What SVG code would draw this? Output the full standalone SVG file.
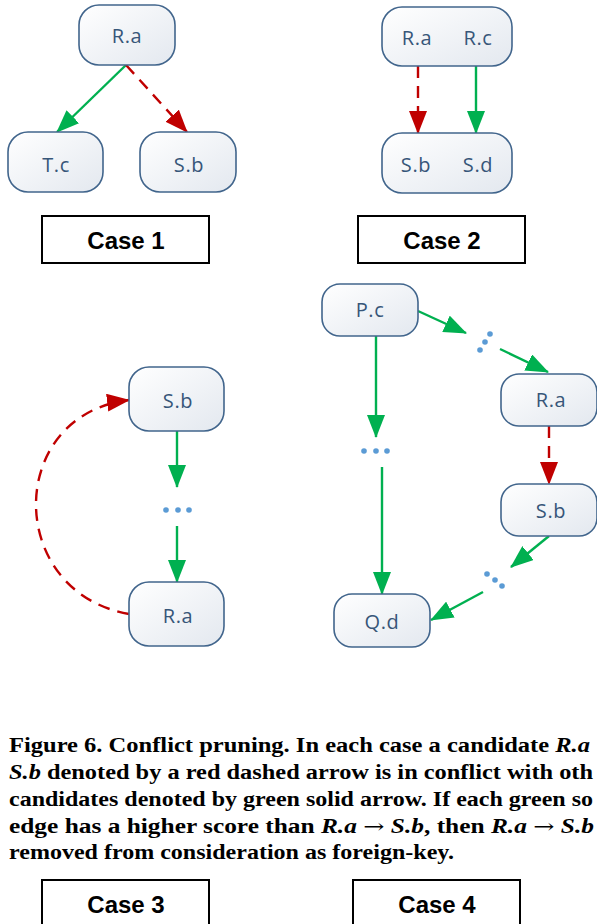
<svg xmlns="http://www.w3.org/2000/svg" width="597" height="924" viewBox="0 0 597 924">
<defs>
<linearGradient id="nf" x1="0" y1="0" x2="1" y2="1">
<stop offset="0" stop-color="#ffffff"/>
<stop offset="1" stop-color="#e3e8ef"/>
</linearGradient>
<marker id="ag" markerUnits="userSpaceOnUse" markerWidth="23" markerHeight="18" refX="22" refY="9" orient="auto">
<path d="M0,0 L23,9 L0,18 z" fill="#00b050"/>
</marker>
<marker id="ar" markerUnits="userSpaceOnUse" markerWidth="23" markerHeight="18" refX="22" refY="9" orient="auto">
<path d="M0,0 L23,9 L0,18 z" fill="#c00000"/>
</marker>
<style>
.n{fill:url(#nf);stroke:#41658c;stroke-width:1.6}
.t{font-family:"Open Sans","DejaVu Sans",sans-serif;font-size:20px;fill:#375679;text-anchor:middle;letter-spacing:0.6px}
.g{fill:none;stroke:#00b050;stroke-width:2.4;marker-end:url(#ag)}
.r{fill:none;stroke:#c00000;stroke-width:2.4;stroke-dasharray:12,8;marker-end:url(#ar)}
.d{fill:#5b9bd5}
.cb{fill:#fff;stroke:#000;stroke-width:2}
.ct{font-family:"Liberation Sans",Arial,sans-serif;font-weight:bold;font-size:24px;fill:#000;text-anchor:middle}
.cap{font-family:"Liberation Serif","Times New Roman",serif;font-weight:bold;font-size:20px;fill:#000}
.i{font-style:italic}
.ar{font-family:"DejaVu Serif",serif;font-weight:normal;font-style:normal}
</style>
</defs>
<rect width="597" height="924" fill="#fff"/>

<g id="connectors">
<line class="g" x1="126" y1="65" x2="57" y2="132"/>
<line class="r" x1="126" y1="65" x2="187" y2="132"/>
<line class="r" x1="418" y1="66" x2="418" y2="133"/>
<line class="g" x1="476" y1="66" x2="476" y2="133"/>
<line class="g" x1="177" y1="431" x2="177" y2="487"/>
<line class="g" x1="177" y1="526" x2="177" y2="582"/>
<path class="r" d="M129,614 C5,592 5,415 129,400"/>
<line class="g" x1="418" y1="311" x2="466" y2="333"/>
<line class="g" x1="500" y1="349" x2="548" y2="372"/>
<line class="r" x1="549" y1="426" x2="549" y2="484"/>
<line class="g" x1="549" y1="536" x2="511" y2="567"/>
<line class="g" x1="483" y1="592" x2="431" y2="620"/>
<line class="g" x1="376" y1="336" x2="376" y2="437"/>
<line class="g" x1="382" y1="467" x2="382" y2="594"/>
</g>

<g id="case1-Ra"><rect class="n" x="79" y="5" width="96" height="60" rx="20"/><text class="t" x="127" y="43">R.a</text></g>
<g id="case1-Tc"><rect class="n" x="8" y="132" width="95" height="60" rx="20"/><text class="t" x="56" y="172">T.c</text></g>
<g id="case1-Sb"><rect class="n" x="140" y="132" width="96" height="60" rx="20"/><text class="t" x="189" y="172">S.b</text></g>
<g id="case1-label"><rect class="cb" x="42" y="216" width="167" height="47"/><text class="ct" x="126" y="249">Case 1</text></g>

<g id="case2-top"><rect class="n" x="382" y="7" width="130" height="59" rx="20"/><text class="t" x="417" y="45">R.a</text><text class="t" x="478" y="45">R.c</text></g>
<g id="case2-bottom"><rect class="n" x="382" y="133" width="130" height="60" rx="20"/><text class="t" x="416" y="172">S.b</text><text class="t" x="478" y="172">S.d</text></g>
<g id="case2-label"><rect class="cb" x="358" y="216" width="167" height="47"/><text class="ct" x="442" y="249">Case 2</text></g>

<g id="case3-Sb"><rect class="n" x="129" y="367" width="95" height="64" rx="20"/><text class="t" x="178" y="408">S.b</text></g>
<g id="case3-dots"><circle class="d" cx="166" cy="510" r="2.8"/><circle class="d" cx="178" cy="510" r="2.8"/><circle class="d" cx="189" cy="510" r="2.8"/></g>
<g id="case3-Ra"><rect class="n" x="129" y="582" width="95" height="64" rx="20"/><text class="t" x="178" y="623">R.a</text></g>

<g id="case4-Pc"><rect class="n" x="322" y="284" width="96" height="52" rx="18"/><text class="t" x="370" y="317">P.c</text></g>
<g id="case4-dots1"><circle class="d" cx="490" cy="334" r="2.8"/><circle class="d" cx="485" cy="342" r="2.8"/><circle class="d" cx="480" cy="350" r="2.8"/></g>
<g id="case4-Ra"><rect class="n" x="501" y="374" width="96" height="52" rx="18"/><text class="t" x="551" y="407">R.a</text></g>
<g id="case4-Sb"><rect class="n" x="501" y="484" width="96" height="52" rx="18"/><text class="t" x="551" y="518">S.b</text></g>
<g id="case4-dots2"><circle class="d" cx="487" cy="574" r="2.8"/><circle class="d" cx="495" cy="580" r="2.8"/><circle class="d" cx="502" cy="586" r="2.8"/></g>
<g id="case4-dots3"><circle class="d" cx="364" cy="451" r="2.8"/><circle class="d" cx="376" cy="451" r="2.8"/><circle class="d" cx="387" cy="451" r="2.8"/></g>
<g id="case4-Qd"><rect class="n" x="334" y="594" width="96" height="53" rx="18"/><text class="t" x="382" y="629">Q.d</text></g>

<g id="caption">
<text class="cap" x="9" y="752" textLength="581" lengthAdjust="spacingAndGlyphs">Figure 6. Conflict pruning. In each case a candidate <tspan class="i">R.a</tspan></text>
<text class="cap" x="9" y="779" textLength="584" lengthAdjust="spacingAndGlyphs"><tspan class="i">S.b</tspan> denoted by a red dashed arrow is in conflict with oth</text>
<text class="cap" x="9" y="806" textLength="584" lengthAdjust="spacingAndGlyphs">candidates denoted by green solid arrow. If each green so</text>
<text class="cap" x="9" y="833" textLength="585" lengthAdjust="spacingAndGlyphs">edge has a higher score than <tspan class="i">R.a</tspan> <tspan class="ar">→</tspan> <tspan class="i">S.b</tspan>, then <tspan class="i">R.a</tspan> <tspan class="ar">→</tspan> <tspan class="i">S.b</tspan></text>
<text class="cap" x="9" y="859" textLength="445" lengthAdjust="spacingAndGlyphs">removed from consideration as foreign-key.</text>
</g>

<g id="case3-label"><rect class="cb" x="42" y="880" width="167" height="47"/><text class="ct" x="126" y="913">Case 3</text></g>
<g id="case4-label"><rect class="cb" x="353" y="880" width="167" height="47"/><text class="ct" x="437" y="913">Case 4</text></g>
</svg>
